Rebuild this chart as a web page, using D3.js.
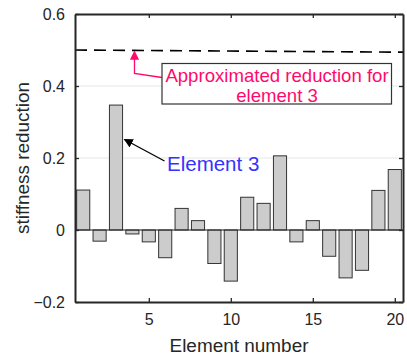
<!DOCTYPE html>
<html>
<head>
<meta charset="utf-8">
<script src="https://cdn.jsdelivr.net/npm/d3@7"></script>
<style>
  body { margin: 0; background: #fff; }
  text { font-family: "Liberation Sans", Arial, sans-serif; }
</style>
</head>
<body>
<svg id="chart" width="407" height="363"></svg>
<script>
(function () {

    // element numbers and identified stiffness reduction
    const elements = d3.range(1, 21);
    const reduction = [0.111, -0.031, 0.347, -0.011, -0.033, -0.077, 0.060, 0.026, -0.093, -0.142,
                       0.091, 0.074, 0.206, -0.033, 0.026, -0.073, -0.133, -0.112, 0.110, 0.168];
    const approxLine = [0.500, 0.494];   // dashed reference line, left end -> right end
    const xTicks = [5, 10, 15, 20];
    const yTicks = [-0.2, 0, 0.2, 0.4, 0.6];

    const svg = d3.select('#chart');
    const left = 75, right = 403, top = 14, bottom = 302;

    const x = d3.scaleLinear().domain([0.5, 20.5]).range([left, right]);
    const y = d3.scaleLinear().domain([-0.2, 0.6]).range([bottom, top]);
    const axisColor = '#262626';

    // horizontal grid
    svg.append('g').selectAll('line')
        .data(yTicks.slice(1, -1))
        .enter().append('line')
        .attr('x1', left).attr('x2', right)
        .attr('y1', d => y(d)).attr('y2', d => y(d))
        .attr('stroke', '#e6e6e6').attr('stroke-width', 1);

    // dashed approximated reduction line
    svg.append('line')
        .attr('x1', x(0.5)).attr('x2', x(20.5))
        .attr('y1', y(approxLine[0])).attr('y2', y(approxLine[1]))
        .attr('stroke', '#000').attr('stroke-width', 1.6)
        .attr('stroke-dasharray', '12,7');

    // bars
    const bw = 0.8;
    svg.append('g').selectAll('rect')
        .data(reduction)
        .enter().append('rect')
        .attr('x', (d, i) => x(elements[i] - bw / 2))
        .attr('width', x(bw) - x(0))
        .attr('y', d => y(Math.max(0, d)))
        .attr('height', d => Math.abs(y(d) - y(0)))
        .attr('fill', '#cccccc')
        .attr('stroke', '#333').attr('stroke-width', 1);

    // zero baseline
    svg.append('line')
        .attr('x1', left).attr('x2', right)
        .attr('y1', y(0)).attr('y2', y(0))
        .attr('stroke', axisColor).attr('stroke-width', 1);

    // axes (box with inward ticks, like MATLAB)
    const tickLen = 4;
    const xb = svg.append('g').attr('transform', `translate(0,${bottom})`)
        .call(d3.axisBottom(x).tickValues(xTicks).tickSizeInner(-tickLen).tickSizeOuter(0).tickPadding(12));
    const xt = svg.append('g').attr('transform', `translate(0,${top})`)
        .call(d3.axisTop(x).tickValues(xTicks).tickSizeInner(-tickLen).tickSizeOuter(0).tickFormat(''));
    const yl = svg.append('g').attr('transform', `translate(${left},0)`)
        .call(d3.axisLeft(y).tickValues(yTicks).tickSizeInner(-tickLen).tickSizeOuter(0).tickPadding(10)
            .tickFormat(d => d === 0 ? '0' : d3.format('.1f')(d)));
    const yr = svg.append('g').attr('transform', `translate(${right},0)`)
        .call(d3.axisRight(y).tickValues(yTicks).tickSizeInner(-tickLen).tickSizeOuter(0).tickFormat(''));

    [xb, xt, yl, yr].forEach(g => {
        g.select('.domain').attr('stroke', axisColor).attr('stroke-width', 2);
        g.selectAll('.tick line').attr('stroke', axisColor).attr('stroke-width', 1.3);
        g.selectAll('.tick text').attr('fill', '#262626').style('font-size', '16px')
            .style('font-family', '"Liberation Sans", Arial, sans-serif');
    });

    // axis labels
    svg.append('text')
        .attr('x', (left + right) / 2).attr('y', 352)
        .attr('text-anchor', 'middle').attr('fill', '#262626')
        .attr('textLength', 139).attr('lengthAdjust', 'spacingAndGlyphs')
        .style('font-size', '17.5px')
        .text('Element number');
    svg.append('text')
        .attr('transform', `translate(29,${(top + bottom) / 2}) rotate(-90)`)
        .attr('text-anchor', 'middle').attr('fill', '#262626')
        .attr('textLength', 152).attr('lengthAdjust', 'spacingAndGlyphs')
        .style('font-size', '17.5px')
        .text('stiffness reduction');

    // arrow markers
    const defs = svg.append('defs');
    [['arrBlack', '#000'], ['arrPink', '#ff0a6c']].forEach(([id, c]) => {
        defs.append('marker').attr('id', id)
            .attr('viewBox', '0 0 10 10').attr('refX', 9).attr('refY', 5)
            .attr('markerWidth', 7).attr('markerHeight', 7).attr('orient', 'auto')
            .append('path').attr('d', 'M0,0 L10,5 L0,10 z').attr('fill', c);
    });

    // pink annotation
    const pink = '#ff0a6c';
    svg.append('path')
        .attr('d', `M162,77.5 L134.5,73.5 L134.5,51.5`)
        .attr('fill', 'none').attr('stroke', pink).attr('stroke-width', 1.3)
        .attr('marker-end', 'url(#arrPink)');
    svg.append('rect')
        .attr('x', 162).attr('y', 63.5).attr('width', 229.5).attr('height', 40.5)
        .attr('fill', '#fff').attr('stroke', '#333').attr('stroke-width', 1.2);
    svg.append('text')
        .attr('x', 277).attr('y', 82)
        .attr('text-anchor', 'middle').attr('fill', pink)
        .style('font-size', '18.6px')
        .text('Approximated reduction for');
    svg.append('text')
        .attr('x', 277).attr('y', 101.5)
        .attr('text-anchor', 'middle').attr('fill', pink)
        .style('font-size', '18.6px')
        .text('element 3');

    // black annotation
    svg.append('line')
        .attr('x1', 164.5).attr('y1', 161)
        .attr('x2', 124.5).attr('y2', 139.5)
        .attr('stroke', '#000').attr('stroke-width', 1.3)
        .attr('marker-end', 'url(#arrBlack)');
    svg.append('text')
        .attr('x', 167).attr('y', 171)
        .attr('fill', '#3333ff')
        .style('font-size', '20.5px')
        .text('Element 3');

})();
</script>
</body>
</html>
